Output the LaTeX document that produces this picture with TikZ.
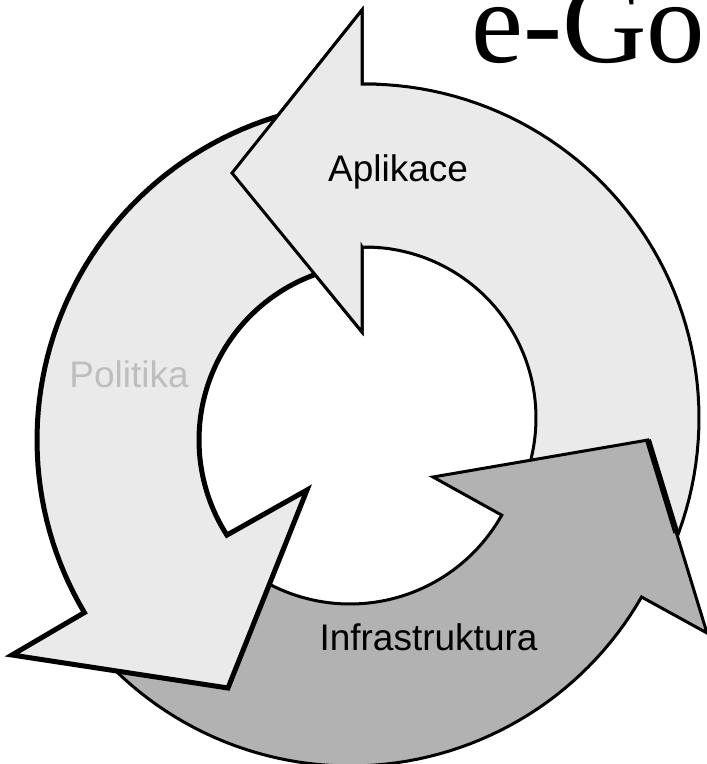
\documentclass[tikz,border=0pt]{standalone}
\usepackage{fontspec}
\setmainfont{Liberation Sans}
\newfontfamily\egovfont{Liberation Serif}
\usetikzlibrary{calc}
\definecolor{litegray}{HTML}{EAEAEA}
\definecolor{darkgray}{HTML}{B2B2B2}
\definecolor{textgray}{HTML}{BEBEBE}
\begin{document}
\begin{tikzpicture}[x=1pt,y=-1pt,line join=miter,
  arrA/.style={fill=litegray,draw=black,line width=3pt},
  arrP/.style={fill=litegray,draw=black,line width=5pt},
  arrI/.style={fill=darkgray,draw=black,line width=3pt},
  lbl/.style={anchor=base,inner sep=0pt,font=\fontsize{37}{40}\selectfont}]
\useasboundingbox (0,0) rectangle (707,764);
% shapes
\def\apath{(362,83) -- (362,10) -- (232,173) -- (362,332) -- (362,247)
  -- plot[domain=-91:28,samples=60] ({365+171*cos(\x)},{418+171*sin(\x)})
  -- plot[domain=28:-90.5,samples=60] ({365+334*cos(\x)},{418+334*sin(\x)}) -- cycle}
\def\ppath{plot[domain=-100:-210.7,samples=60] ({375+338*cos(\x)},{440+338*sin(\x)})
  -- (12,655) -- (228,688) -- (307,490)
  -- plot[domain=-212.7:-100,samples=60] ({375+176*cos(\x)},{440+176*sin(\x)}) -- cycle}
\def\ipath{plot[domain=140:29.8,samples=60] ({350+336*cos(\x)},{430+336*sin(\x)})
  -- (707,633) -- (648,440) -- (433,477)
  -- plot[domain=29.3:140,samples=60] ({350+174*cos(\x)},{430+174*sin(\x)}) -- cycle}
\coordinate (itip) at (648,440);
\coordinate (icorner) at (707,633);
\path[arrA] \apath;
\path[arrI] \ipath;
\draw[line width=6pt] (itip) -- ($(itip)!0.48!(icorner)$);
\path[arrP] \ppath;
\begin{scope}
  \clip (200,0) rectangle (380,345);
  \path[arrA] \apath;
\end{scope}
% labels
\node[lbl] (aplikace) at (398,181) {Aplikace};
\node[lbl,text=textgray] (politika) at (129,387) {Politika};
\node[lbl] (infra) at (428.5,650) {Infrastruktura};
\node[anchor=base west,inner sep=0pt,font=\egovfont\fontsize{117}{120}\selectfont] (egov) at (471,62) {e-Go};
\end{tikzpicture}
\end{document}
